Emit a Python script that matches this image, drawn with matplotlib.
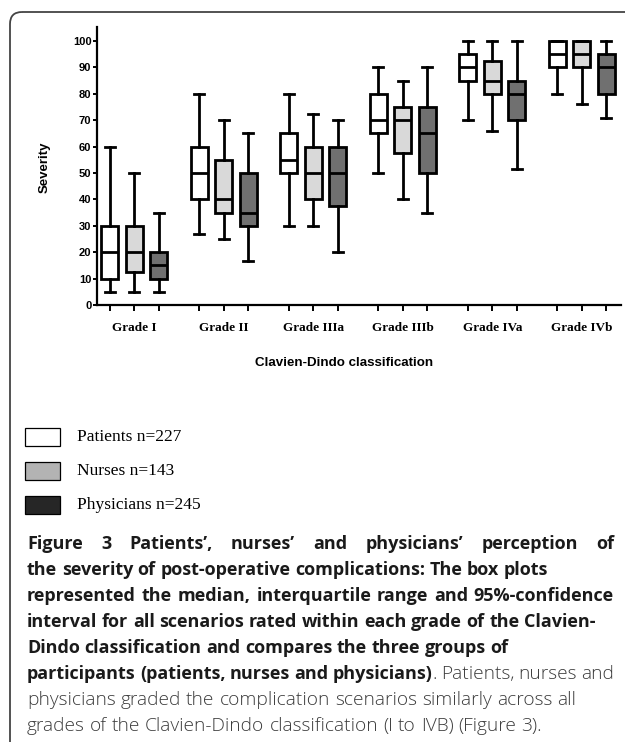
import matplotlib
matplotlib.use("Agg")
import matplotlib.pyplot as plt
import matplotlib.transforms as mtransforms
from matplotlib.patches import FancyBboxPatch, Rectangle

# ---------------- data ----------------
grades = ["Grade I", "Grade II", "Grade IIIa", "Grade IIIb", "Grade IVa", "Grade IVb"]
series_names = ["Patients n=227", "Nurses n=143", "Physicians n=245"]

patients_whislo = [5, 27, 30, 50, 70, 80]
patients_q1 = [10, 40, 50, 65, 85, 90]
patients_med = [20, 50, 55, 70, 90, 95]
patients_q3 = [30, 60, 65, 80, 95, 100]
patients_whishi = [60, 80, 80, 90, 100, 100]

nurses_whislo = [5, 25, 30, 40, 66, 76]
nurses_q1 = [12.5, 35, 40, 57.5, 80, 90]
nurses_med = [20, 40, 50, 70, 85, 95]
nurses_q3 = [30, 55, 60, 75, 92.5, 100]
nurses_whishi = [50, 70, 72.5, 85, 100, 100]

physicians_whislo = [5, 16.5, 20, 35, 51.5, 71]
physicians_q1 = [10, 30, 37.5, 50, 70, 80]
physicians_med = [15, 35, 50, 65, 80, 90]
physicians_q3 = [20, 50, 60, 75, 85, 95]
physicians_whishi = [35, 65, 70, 90, 100, 100]

yticks = [0, 10, 20, 30, 40, 50, 60, 70, 80, 90, 100]

# ---------------- figure ----------------
W, H = 625, 742
fig = plt.figure(figsize=(W / 100, H / 100), dpi=100)
fig.patch.set_facecolor("white")

# pixel transform with origin top-left
pix = mtransforms.Affine2D().scale(1 / W, -1 / H).translate(0, 1) + fig.transFigure

# frame with rounded top-left corner (extends beyond right/bottom edges)
frame = FancyBboxPatch((10, 12), 700, 800, boxstyle="round,pad=0,rounding_size=12",
                       transform=pix, fill=False, edgecolor="#444444", linewidth=1.3)
fig.patches.append(frame)

ax_left, ax_right, ax_top, ax_bot = 97, 621, 27, 305
ax = fig.add_axes([ax_left / W, 1 - ax_bot / H, (ax_right - ax_left) / W, (ax_bot - ax_top) / H])

box_colors = ["#ffffff", "#d9d9d9", "#707070"]
offsets = [-0.274, 0.0, 0.274]
all_stats = [
    (patients_whislo, patients_q1, patients_med, patients_q3, patients_whishi),
    (nurses_whislo, nurses_q1, nurses_med, nurses_q3, nurses_whishi),
    (physicians_whislo, physicians_q1, physicians_med, physicians_q3, physicians_whishi),
]

lw = 2.0
tick_positions = []
for s, (wl, q1, md, q3, wh) in enumerate(all_stats):
    stats = []
    pos = []
    for i in range(len(grades)):
        stats.append(dict(whislo=wl[i], q1=q1[i], med=md[i], q3=q3[i], whishi=wh[i], fliers=[]))
        pos.append(i + offsets[s])
    tick_positions += pos
    ax.bxp(stats, positions=pos, widths=0.19, patch_artist=True, showfliers=False,
           boxprops=dict(facecolor=box_colors[s], edgecolor="black", linewidth=lw),
           medianprops=dict(color="black", linewidth=lw),
           whiskerprops=dict(color="black", linewidth=lw),
           capprops=dict(color="black", linewidth=lw),
           capwidths=0.11, manage_ticks=False)

ax.set_xlim(-0.417, 5.438)
ax.set_ylim(0, 105.3)
ax.set_yticks(yticks)
ax.set_yticklabels([str(v) for v in yticks], fontfamily="Liberation Sans", fontweight="bold", fontsize=8)
ax.set_xticks(sorted(tick_positions))
ax.set_xticklabels([])
ax.tick_params(axis="y", length=3, width=1.4, pad=1)
ax.tick_params(axis="x", length=4, width=1.4)
for sp in ["top", "right"]:
    ax.spines[sp].set_visible(False)
for sp in ["left", "bottom"]:
    ax.spines[sp].set_linewidth(1.6)

# group labels
for i, g in enumerate(grades):
    ax.annotate(g, xy=(i, H - 328), xycoords=("data", "figure pixels"), ha="center", va="center",
                fontfamily="Liberation Serif", fontweight="bold", fontsize=9.5)

fig.text(45 / W, 1 - 167 / H, "Severity", rotation=90, ha="center", va="center",
         fontfamily="Liberation Sans", fontweight="bold", fontsize=9.5)
fig.text(344 / W, 1 - 363 / H, "Clavien-Dindo classification", ha="center", va="center",
         fontfamily="Liberation Sans", fontweight="bold", fontsize=9.65)

# legend
legend_colors = ["#ffffff", "#b3b3b3", "#262626"]
legend_y = [437, 471, 505]
for name, c, yc in zip(series_names, legend_colors, legend_y):
    fig.patches.append(Rectangle((25, yc - 9), 35, 18, transform=pix, facecolor=c,
                                 edgecolor="black", linewidth=0.9))
    fig.text(77 / W, 1 - yc / H, name, ha="left", va="center",
             fontfamily="Liberation Serif", fontsize=12.5)

# caption
B = dict(fontfamily="Open Sans", fontweight="bold", color="#1a1a1a", fontsize=13)
L = dict(fontfamily="Open Sans", fontweight="light", color="#3c3c3c", fontsize=13.8)
caption_lines = [
    ([[("Figure", B)], [("3", B)], [("Patients\u2019,", B)], [("nurses\u2019", B)], [("and", B)],
      [("physicians\u2019", B)], [("perception", B)], [("of", B)]], True),
    ([[(w, B)] for w in "the severity of post-operative complications: The box plots".split()], False),
    ([[(w, B)] for w in "represented the median, interquartile range and 95%-confidence".split()], True),
    ([[(w, B)] for w in "interval for all scenarios rated within each grade of the Clavien-".split()], False),
    ([[(w, B)] for w in "Dindo classification and compares the three groups of".split()], False),
    ([[(w, B)] for w in "participants (patients, nurses and".split()] + [[("physicians)", B), (".", L)]]
     + [[(w, L)] for w in "Patients, nurses and".split()], True),
    ([[(w, L)] for w in "physicians graded the complication scenarios similarly across all".split()], False),
    ([[(w, L)] for w in "grades of the Clavien-Dindo classification (I to IVB) (Figure 3).".split()], False),
]

renderer = fig.canvas.get_renderer()
x0, x1 = 27, 614
y0, dy = 542, 26.0


def width_of(t):
    return t.get_window_extent(renderer).width


def space_width(st):
    p1 = fig.text(0, 0, "x x", **st)
    p2 = fig.text(0, 0, "xx", **st)
    w = width_of(p1) - width_of(p2)
    p1.remove()
    p2.remove()
    return w


for li, (words, justify) in enumerate(caption_lines):
    yc = y0 + li * dy
    word_texts = []
    word_widths = []
    for word in words:
        pieces = []
        wsum = 0
        for txt, st in word:
            t = fig.text(0, 1 - yc / H, txt, ha="left", va="center_baseline", **st)
            w = width_of(t)
            pieces.append((t, w))
            wsum += w
        word_texts.append(pieces)
        word_widths.append(wsum)
    total = sum(word_widths)
    n_gaps = len(words) - 1
    if justify and n_gaps > 0:
        gap = (x1 - x0 - total) / n_gaps
    else:
        gap = space_width(words[0][0][1])
    x = x0
    for pieces, ww in zip(word_texts, word_widths):
        px = x
        for t, w in pieces:
            t.set_x(px / W)
            px += w
        x += ww + gap

fig.savefig("out.png", dpi=100)
